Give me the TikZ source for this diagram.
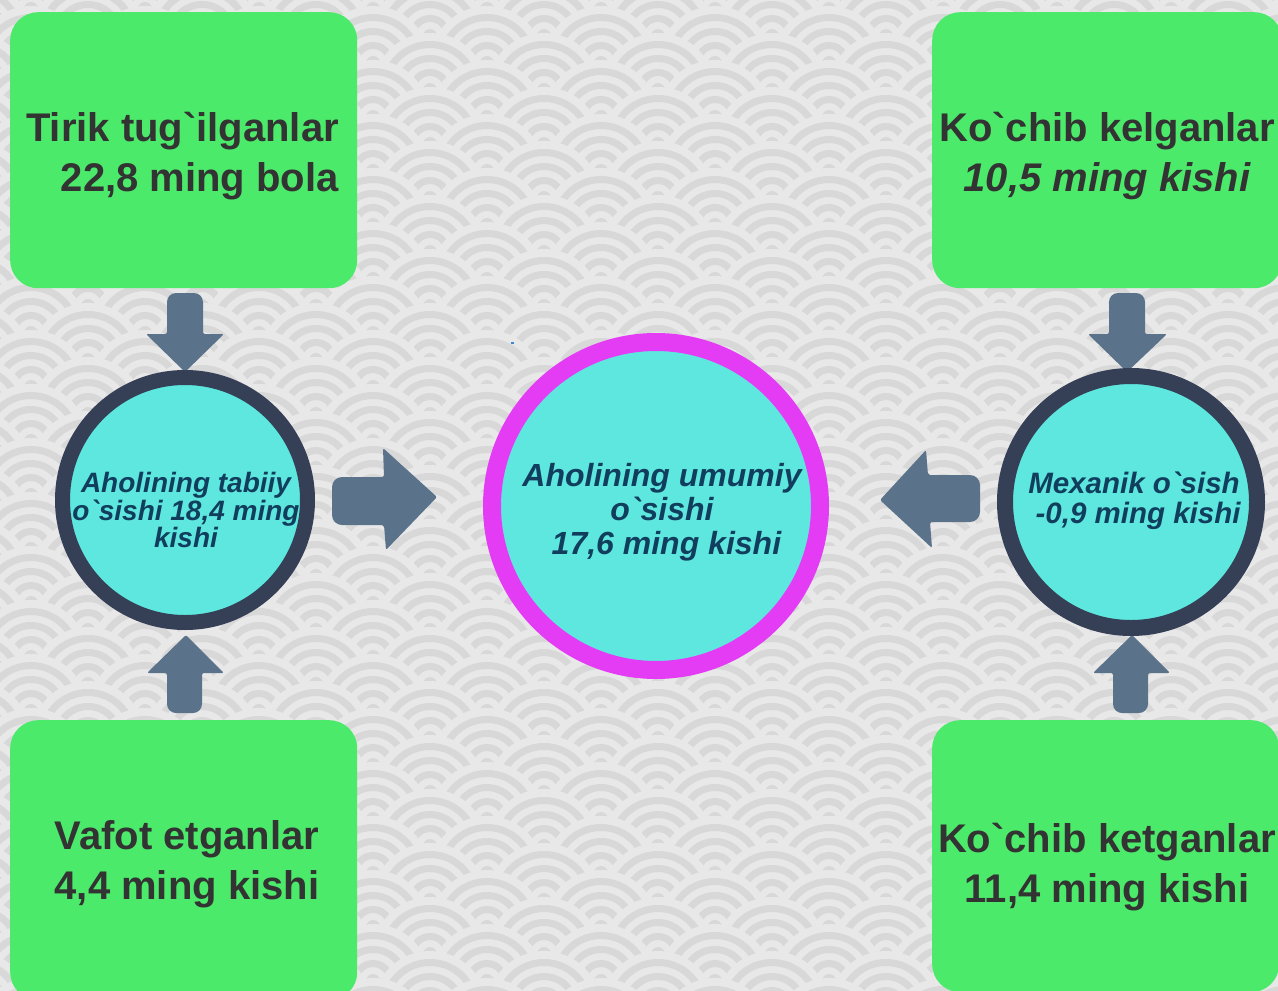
\documentclass[tikz,border=0pt]{standalone}
\usepackage{fontspec}
\setmainfont{Liberation Sans}
\definecolor{bgl}{HTML}{E8E8E8}
\definecolor{bgd}{HTML}{D8D8D8}
\definecolor{boxg}{HTML}{4CEA6A}
\definecolor{txtg}{HTML}{333333}
\definecolor{cyanf}{HTML}{5EE7DF}
\definecolor{ringd}{HTML}{353F56}
\definecolor{ringm}{HTML}{E43CF4}
\definecolor{arrc}{HTML}{5B728B}
\definecolor{ctxt}{HTML}{123E5E}
\definecolor{dotb}{HTML}{3A8AD0}
\tikzset{
  gbox/.style={fill=boxg, draw=none, rounded corners=28pt, inner sep=0pt, anchor=north west},
  btxt/.style={font=\fontsize{40}{50}\selectfont\bfseries, text=txtg, inner sep=0pt},
  ctext/.style={font=\bfseries\itshape, text=ctxt, inner sep=0pt, align=center},
  ringdark/.style={circle, draw=ringd, fill=cyanf, inner sep=0pt},
  blockarrow/.style={fill=arrc, draw=none}
}
\begin{document}
\begin{tikzpicture}[x=1pt,y=-1pt]
\useasboundingbox (0,0) rectangle (1278,991);
% seigaiha background
\begin{scope}
\clip (0,0) rectangle (1278,991);
\fill[bgl] (0,0) rectangle (1278,991);
\foreach \j in {-4,...,36}{
  \foreach \i in {-4,...,8}{
    \pgfmathsetmacro{\cx}{430+114*\i+57*mod(\j+4,2)}
    \pgfmathsetmacro{\cy}{90+27*\j}
    \fill[bgl] (\cx,\cy) circle (57pt);
    \draw[bgd,line width=7pt] (\cx,\cy) circle (45.5pt) (\cx,\cy) circle (31.5pt) (\cx,\cy) circle (17.5pt);
    \fill[bgd] (\cx,\cy) circle (7pt);
  }
}
\end{scope}
% boxes
\node[gbox, minimum width=347pt, minimum height=276pt] (b1) at (10,12) {};
\node[gbox, minimum width=350pt, minimum height=276pt] (b2) at (932,12) {};
\node[gbox, minimum width=347pt, minimum height=280pt] (b3) at (10,720) {};
\node[gbox, minimum width=347pt, minimum height=272pt] (b4) at (932,720) {};
\node[btxt, anchor=east, align=right] (t1) at (339,156) {Tirik tug\textasciigrave ilganlar\\22,8 ming bola};
\node[btxt, align=center] (t2) at (1107,156) {Ko\textasciigrave chib kelganlar\\{\itshape 10,5 ming kishi}};
\node[btxt, align=center] (t3) at (187,864) {Vafot etganlar\\4,4 ming kishi};
\node[btxt, align=center] (t4) at (1107,867) {Ko\textasciigrave chib ketganlar\\11,4 ming kishi};
% block arrows
\fill[blockarrow, rounded corners=2pt] (185,372) -- (146,334) -- (167,334) [rounded corners=9pt] -- (167,293) -- (203,293) [rounded corners=2pt] -- (203,334) -- (224,334) -- cycle;
\fill[blockarrow, rounded corners=2pt] (1127,372) -- (1088,334) -- (1109,334) [rounded corners=9pt] -- (1109,293) -- (1145,293) [rounded corners=2pt] -- (1145,334) -- (1167,334) -- cycle;
\fill[blockarrow, rounded corners=2pt] (186,635) -- (147,673) -- (167,673) [rounded corners=9pt] -- (167,713) -- (202,713) [rounded corners=2pt] -- (202,673) -- (224,673) -- cycle;
\fill[blockarrow, rounded corners=2pt] (1132,635) -- (1093,673) -- (1113,673) [rounded corners=9pt] -- (1113,713) -- (1148,713) [rounded corners=2pt] -- (1148,673) -- (1170,673) -- cycle;
\fill[blockarrow, rounded corners=2pt] (437,497) -- (383,448) -- (384,477) [rounded corners=10pt] -- (332,477) -- (332,525) [rounded corners=2pt] -- (384,525) -- (386,550) -- cycle;
\fill[blockarrow, rounded corners=2pt] (880,500) -- (926,450) -- (928,475) [rounded corners=10pt] -- (980,475) -- (980,522) [rounded corners=2pt] -- (930,522) -- (932,548) -- cycle;
% circles
\node[ringdark, line width=15pt, minimum size=245pt] (c1) at (185,500) {};
\node[ringdark, line width=16pt, minimum size=252pt] (c3) at (1131,502) {};
\node[circle, draw=ringm, fill=cyanf, inner sep=0pt, line width=18pt, minimum size=328pt] (c2) at (656,506) {};
\node[ctext, font=\fontsize{28}{27.5}\selectfont\bfseries\itshape] (ct1) at (186,510) {Aholining tabiiy\\o\textasciigrave sishi 18,4 ming\\kishi};
\node[ctext, font=\fontsize{32}{34}\selectfont\bfseries\itshape] (ct2) at (662,512) {Aholining umumiy\\o\textasciigrave sishi\\\ 17,6 ming kishi};
\node[ctext, font=\fontsize{29.5}{30}\selectfont\bfseries\itshape] (ct3) at (1134,501) {Mexanik o\textasciigrave sish\\\ -0,9 ming kishi};
\fill[dotb] (511,342) rectangle (514,344);
\end{tikzpicture}
\end{document}
